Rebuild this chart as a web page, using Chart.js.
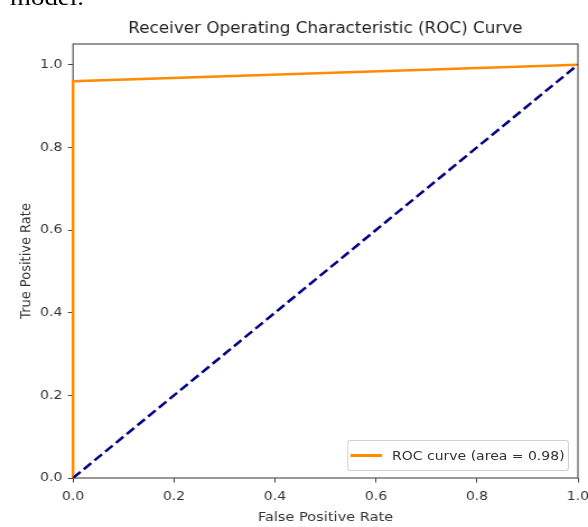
<!DOCTYPE html>
<html>
<head>
<meta charset="utf-8">
<script src="https://cdn.jsdelivr.net/npm/chart.js@4.4.1/dist/chart.umd.min.js"></script>
<style>
  body { margin: 0; background: #fff; overflow: hidden; }
  /* bilden är lite utdragen på bredden, så vi sträcker hela ytan */
  #wrap {
    position: relative;
    width: 525px;
    height: 527px;
    transform: scaleX(1.12);
    transform-origin: 0 0;
  }
  #roc { position: absolute; left: 0; top: 0; }
  #caption {
    position: absolute;
    left: 9px;
    top: -15px;
    font-family: "Liberation Serif", serif;
    font-size: 24px;
    line-height: 24px;
    color: #000;
  }
  #legend {
    position: absolute;
    left: 310px;
    top: 440px;
    width: 196px;
    height: 29px;
    border: 1px solid #d0d0d0;
    border-radius: 3px;
    background: rgba(255, 255, 255, 0.8);
    display: flex;
    align-items: center;
    font-family: "DejaVu Sans", sans-serif;
    font-size: 12.5px;
    color: #333;
  }
  #legend .swatch {
    width: 28px;
    height: 2.5px;
    margin-left: 2px;
    margin-right: 9px;
    background: #ff8c00;
  }
</style>
</head>
<body>
<div id="wrap">
  <canvas id="roc" width="525" height="527"></canvas>
  <div id="caption">model.</div>
  <div id="legend"><span class="swatch"></span><span id="legendText"></span></div>
</div>
<script>
// data
const fpr = [0, 0, 1];
const tpr = [0, 0.96, 1];
const chanceX = [0, 1];
const chanceY = [0, 1];
const rocLabel = "ROC curve (area = 0.98)";
const xTicks = [0, 0.2, 0.4, 0.6, 0.8, 1.0];
const yTicks = [0, 0.2, 0.4, 0.6, 0.8, 1.0];

const font = "DejaVu Sans";

document.getElementById("legendText").textContent = rocLabel;

//ram runt hela plotytan (alla fyra sidor)
const framePlugin = {
  id: "frame",
  beforeDatasetsDraw(chart) {
    const a = chart.chartArea;
    const ctx = chart.ctx;
    ctx.save();
    ctx.strokeStyle = "#555";
    ctx.lineWidth = 1.2;
    ctx.strokeRect(a.left, a.top, a.right - a.left, a.bottom - a.top);
    ctx.restore();
  },
};

const datasets = [
  {
    label: "chance",
    data: chanceX.map((x, i) => ({ x, y: chanceY[i] })),
    borderColor: "#000080",
    borderWidth: 2.5,
    borderDash: [9, 4],
    pointRadius: 0,
    showLine: true,
  },
  {
    label: rocLabel,
    data: fpr.map((x, i) => ({ x, y: tpr[i] })),
    borderColor: "#ff8c00",
    borderWidth: 2.5,
    pointRadius: 0,
    showLine: true,
    clip: false,
  },
];

const tickGrid = {
  display: true,
  drawOnChartArea: false,
  drawTicks: true,
  tickLength: 4.5,
  color: "#444",
};

const config = {
  type: "scatter",
  data: { datasets },
  options: {
    responsive: false,
    animation: false,
    layout: { padding: { right: 9 } },
    plugins: {
      legend: { display: false },
      tooltip: { enabled: false },
      title: {
        display: true,
        text: "Receiver Operating Characteristic (ROC) Curve",
        fullSize: false,
        color: "#222",
        font: { family: font, size: 15, weight: "normal" },
        padding: { top: 20, bottom: 6 },
      },
    },
    scales: {
      x: {
        type: "linear",
        min: 0,
        max: 1,
        border: { display: false },
        grid: tickGrid,
        //sista etiketten (1.0) får sticka ut till höger som i originalet
        afterFit: (scale) => {
          scale.height = 49;
          scale.paddingLeft = 0;
          scale.paddingRight = 0;
        },
        afterBuildTicks: (scale) => { scale.ticks = xTicks.map((v) => ({ value: v })); },
        ticks: {
          color: "#333",
          padding: 7,
          maxRotation: 0,
          font: { family: font, size: 12.5 },
          callback: (v) => Number(v).toFixed(1),
        },
        title: {
          display: true,
          text: "False Positive Rate",
          color: "#333",
          font: { family: font, size: 13 },
          padding: { top: 0, bottom: 2 },
        },
      },
      y: {
        type: "linear",
        min: 0,
        max: 1.05,
        border: { display: false },
        grid: tickGrid,
        afterFit: (scale) => { scale.width = 65.2; },
        afterBuildTicks: (scale) => { scale.ticks = yTicks.map((v) => ({ value: v })); },
        ticks: {
          color: "#333",
          padding: 5,
          font: { family: font, size: 12.5 },
          callback: (v) => Number(v).toFixed(1),
        },
        title: {
          display: true,
          text: "True Positive Rate",
          color: "#333",
          font: { family: font, size: 13 },
          padding: { top: 16, bottom: 0 },
        },
      },
    },
  },
  plugins: [framePlugin],
};

const canvas = document.getElementById("roc");
const rocChart = new Chart(canvas, config);
</script>
</body>
</html>
